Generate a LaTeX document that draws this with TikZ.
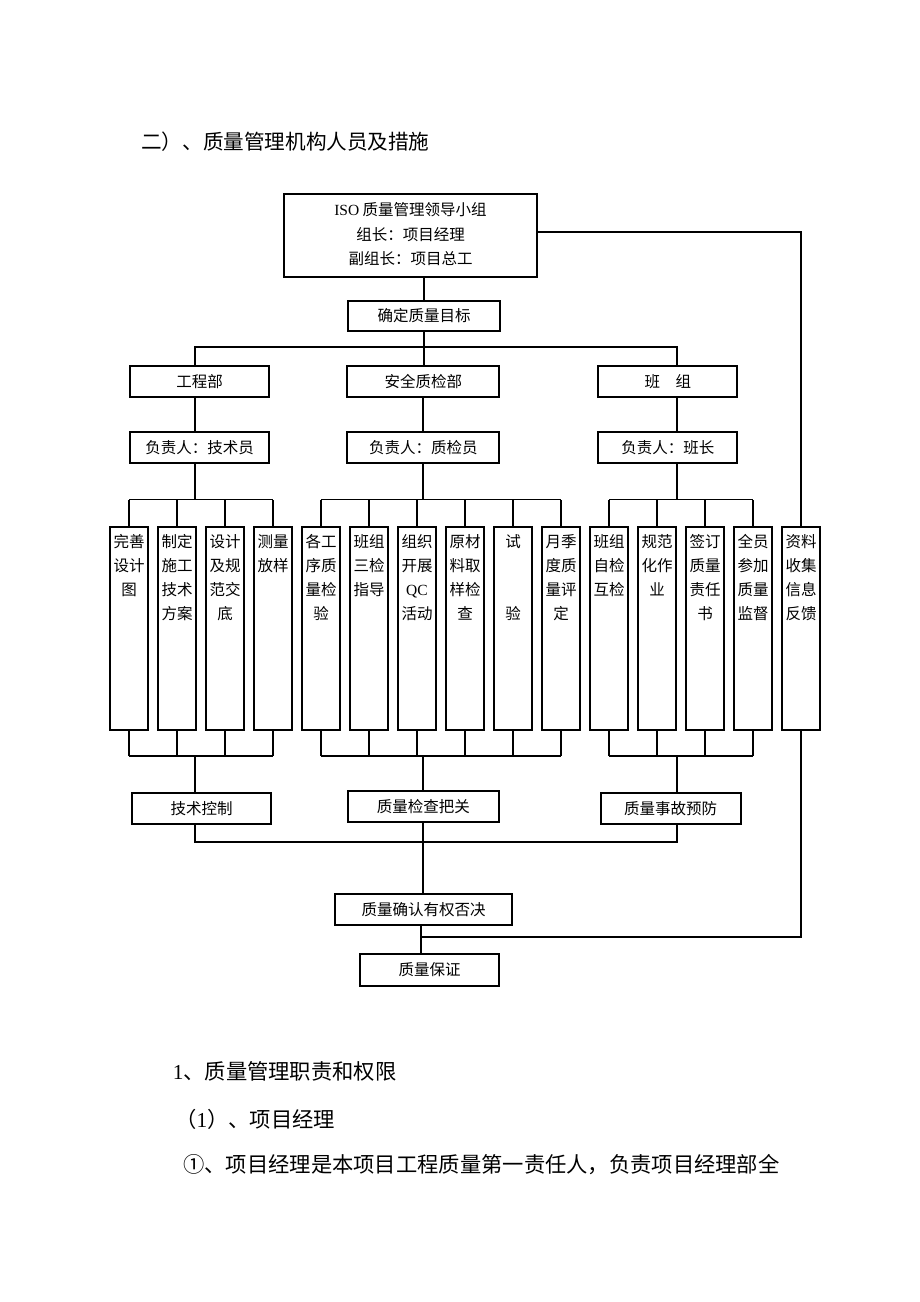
\documentclass[tikz,border=0pt]{standalone}
\usepackage{fontspec}
\setmainfont{Noto Sans CJK SC}
\newfontfamily\latin{Liberation Serif}
\usetikzlibrary{positioning}

\begin{document}
\begin{tikzpicture}[x=1pt,y=-1pt,
		box/.style={draw, line width=2pt, inner sep=0pt, minimum height=31pt, align=center,
			font=\fontsize{15.5}{23.5}\selectfont},
		task/.style={draw, line width=2pt, inner sep=0pt, minimum width=38pt, minimum height=203pt},
		tasktext/.style={inner sep=0pt, align=center, font=\fontsize{15.5}{24}\selectfont},
		link/.style={line width=1.8pt},
		plain/.style={anchor=west, inner sep=0pt, font=\fontsize{21.3}{26}\selectfont}]
	% page frame
	\useasboundingbox (0,0) rectangle (920,1302);

	% heading
	\node[plain, font=\fontsize{20.6}{26}\selectfont] (title) at (141,141.7) {二）、质量管理机构人员及措施};

	% leading group and target
	\node[box, minimum width=253pt, minimum height=83pt] (lead) at (410.5,235.5)
		{\raisebox{3pt}{\begin{tabular}{@{}c@{}}{\latin ISO} 质量管理领导小组\\[1pt]组长：项目经理\\[1pt]副组长：项目总工\end{tabular}}};
	\node[box, minimum width=152pt, minimum height=30pt] (goal) at (424,315.7) {确定质量目标};

	% departments
	\node[box, minimum width=139pt] (dept1) at (199.5,381.5) {工程部};
	\node[box, minimum width=152pt] (dept2) at (423.3,381.5) {安全质检部};
	\node[box, minimum width=139pt] (dept3) at (667.8,381.5) {班　组};

	% persons in charge
	\node[box, minimum width=139pt] (head1) at (199.5,447.2) {负责人：技术员};
	\node[box, minimum width=152pt] (head2) at (423.3,447.2) {负责人：质检员};
	\node[box, minimum width=139pt] (head3) at (667.8,447.2) {负责人：班长};

	% task columns
	\foreach \i/\txt in {0/{完善\\设计\\图}, 1/{制定\\施工\\技术\\方案}, 2/{设计\\及规\\范交\\底},
			3/{测量\\放样}, 4/{各工\\序质\\量检\\验}, 5/{班组\\三检\\指导},
			6/{组织\\开展\\{\latin QC}\\活动}, 7/{原材\\料取\\样检\\查}, 8/{试\\\mbox{}\\\mbox{}\\验},
			9/{月季\\度质\\量评\\定}, 10/{班组\\自检\\互检}, 11/{规范\\化作\\业},
			12/{签订\\质量\\责任\\书}, 13/{全员\\参加\\质量\\监督}, 14/{资料\\收集\\信息\\反馈}}{
		\node[task] (t\i) at ({129+48*\i},628.5) {};
		\node[tasktext, below=8pt of t\i.north] (l\i) {\txt};
	}

	% results
	\node[box, minimum width=139pt] (ctrl) at (201.5,808.4) {技术控制};
	\node[box, minimum width=150.5pt] (check) at (423.3,806.2) {质量检查把关};
	\node[box, minimum width=140pt] (prev) at (670.5,808.4) {质量事故预防};
	\node[box, minimum width=177pt] (veto) at (423.5,909.5) {质量确认有权否决};
	\node[box, minimum width=139.5pt, minimum height=31.7pt] (assure) at (429.7,969.9) {质量保证};

	% bus levels
	\coordinate (colA) at (195,347);
	\coordinate (colC) at (677,347);
	\coordinate (upbus) at (0,499.5);
	\coordinate (lowbus) at (0,756);
	\coordinate (sumbus) at (0,841.7);
	\coordinate (fb) at (421,937.3);

	% top branches
	\draw[link] (lead.south -| goal.north) -- (goal.north);
	\draw[link] (goal.south) -- (goal.south |- dept2.north);
	\draw[link]
			 (dept1.north -| colA)
		  -- (colA)
		  -- (colC)
		  -- (dept3.north -| colC);
	\draw[link] (dept1.south -| colA) -- (head1.north -| colA);
	\draw[link] (dept2.south) -- (head2.north);
	\draw[link] (dept3.south -| colC) -- (head3.north -| colC);
	\draw[link] (head1.south -| colA) -- (colA |- upbus);
	\draw[link] (head2.south) -- (head2.south |- upbus);
	\draw[link] (head3.south -| colC) -- (colC |- upbus);

	% task buses
	\draw[link] (t0.north |- upbus) -- (t3.north |- upbus);
	\draw[link] (t4.north |- upbus) -- (t9.north |- upbus);
	\draw[link] (t10.north |- upbus) -- (t13.north |- upbus);
	\draw[link] (t0.south |- lowbus) -- (t3.south |- lowbus);
	\draw[link] (t4.south |- lowbus) -- (t9.south |- lowbus);
	\draw[link] (t10.south |- lowbus) -- (t13.south |- lowbus);
	\foreach \i in {0,...,13}{
		\draw[link] (t\i.north) -- (t\i.north |- upbus);
		\draw[link] (t\i.south) -- (t\i.south |- lowbus);
	}

	% lower branches
	\draw[link] (colA |- lowbus) -- (colA |- ctrl.north);
	\draw[link] (check.north |- lowbus) -- (check.north);
	\draw[link] (colC |- lowbus) -- (colC |- prev.north);
	\draw[link]
			 (colA |- ctrl.south)
		  -- (colA |- sumbus)
		  -- (colC |- sumbus)
		  -- (colC |- prev.south);
	\draw[link] (check.south) -- (check.south |- veto.north);
	\draw[link] (veto.south -| fb) -- (assure.north -| fb);

	% feedback line
	\draw[link] ([yshift=3.5pt]lead.east) -| (t14.north);
	\draw[link] (t14.south) |- (fb);

	% text below
	\node[plain] (sec) at (172.6,1071.7) {{\latin 1}、质量管理职责和权限};
	\node[plain] (sub) at (175,1119) {（{\latin 1}）、项目经理};
	\node[plain] (para) at (183,1165) {①、项目经理是本项目工程质量第一责任人，负责项目经理部全};
\end{tikzpicture}
\end{document}
